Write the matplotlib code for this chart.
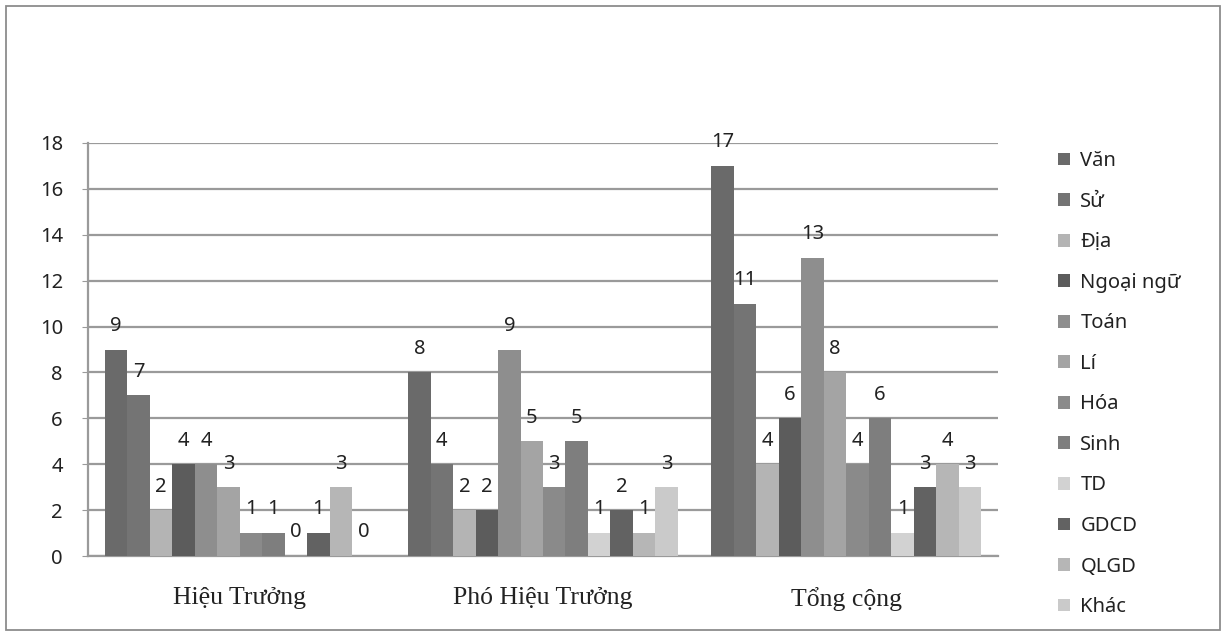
import numpy as np
import matplotlib
matplotlib.use('Agg')
import matplotlib.pyplot as plt
from matplotlib.patches import Rectangle, Patch

# data
groups = ['Hiệu Trưởng', 'Phó Hiệu Trưởng', 'Tổng cộng']
subjects = ['Văn', 'Sử', 'Địa', 'Ngoại ngữ', 'Toán', 'Lí', 'Hóa', 'Sinh', 'TD', 'GDCD', 'QLGD', 'Khác']
hieu_truong = [9, 7, 2, 4, 4, 3, 1, 1, 0, 1, 3, 0]
pho_hieu_truong = [8, 4, 2, 2, 9, 5, 3, 5, 1, 2, 1, 3]
tong_cong = [17, 11, 4, 6, 13, 8, 4, 6, 1, 3, 4, 3]
y_ticks = [0, 2, 4, 6, 8, 10, 12, 14, 16, 18]

colors = ['#6a6a6a', '#747474', '#b4b4b4', '#5c5c5c', '#8e8e8e', '#a4a4a4',
          '#8a8a8a', '#7e7e7e', '#d2d2d2', '#626262', '#b6b6b6', '#cacaca']

sans = ['Noto Sans', 'DejaVu Sans']
serif = ['Liberation Serif', 'DejaVu Serif']

W, H = 1226, 635
fig = plt.figure(figsize=(W / 100, H / 100), dpi=100)
fig.patch.set_facecolor('white')

# outer frame of the chart
fig.patches.append(Rectangle((6 / W, 5 / H), 1214 / W, 624 / H, transform=fig.transFigure,
                             fill=False, edgecolor='#8c8c8c', lw=1.3))

ax = fig.add_axes([88 / W, 1 - 556 / H, (998 - 88) / W, (556 - 143) / H])

vals = np.array([hieu_truong, pho_hieu_truong, tong_cong])  # groups x subjects
n = len(subjects)
x = np.arange(len(groups))
bw = 0.89 / n

for i, s in enumerate(subjects):
    pos = x - 0.445 + bw * (i + 0.5)
    bars = ax.bar(pos, vals[:, i], width=bw, color=colors[i], label=s, zorder=3)
    for b, v in zip(bars, vals[:, i]):
        ax.annotate(str(v), (b.get_x() + b.get_width() / 2, v), xytext=(0, 17),
                    textcoords='offset points', ha='center', va='center',
                    fontsize=14.5, family=sans, color='#222222', zorder=4)

ax.set_xlim(-0.5, 2.5)
ax.set_ylim(0, 18)
ax.set_yticks(y_ticks)
ax.set_yticklabels([str(t) for t in y_ticks], fontsize=14.5, family=sans, color='#222222')
ax.yaxis.grid(True, color='#9a9a9a', lw=1.6, zorder=0)
ax.set_axisbelow(True)
ax.set_xticks(x)
ax.set_xticklabels(groups, fontsize=18.5, family=serif, color='#222222')
ax.tick_params(axis='x', length=0, pad=22)
ax.tick_params(axis='y', length=4, color='#9a9a9a', pad=14)
for sp in ['top', 'right']:
    ax.spines[sp].set_visible(False)
for sp in ['left', 'bottom']:
    ax.spines[sp].set_color('#9a9a9a')
    ax.spines[sp].set_linewidth(1.6)

handles = [Patch(facecolor=c, edgecolor='none') for c in colors]
leg = fig.legend(handles, subjects, loc='upper left', bbox_to_anchor=(1040 / W, 1 - 133 / H),
                 frameon=False, prop={'family': sans, 'size': 14.5}, handlelength=0.6,
                 handleheight=0.6, handletextpad=0.5, labelspacing=1.02)
for t in leg.get_texts():
    t.set_color('#222222')

fig.savefig('out.png', dpi=100, facecolor='white')
